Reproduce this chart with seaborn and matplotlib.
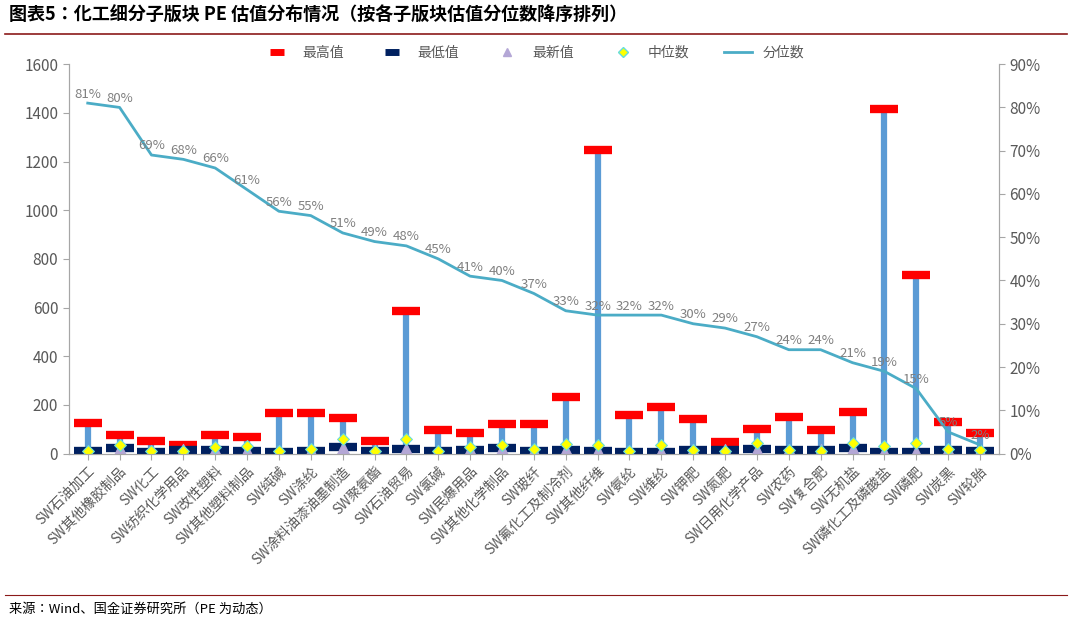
import matplotlib
matplotlib.use("Agg")
import matplotlib.pyplot as plt
import seaborn as sns
import numpy as np
import pandas as pd
from matplotlib.lines import Line2D

plt.rcParams["font.family"] = ["Noto Sans CJK SC", "Noto Sans CJK JP", "Noto Sans CJK TC", "Noto Sans CJK KR", "DejaVu Sans"]

categories = ["SW石油加工","SW其他橡胶制品","SW化工","SW纺织化学用品","SW改性塑料","SW其他塑料制品","SW纯碱","SW涤纶",
              "SW涂料油漆油墨制造","SW聚氨酯","SW石油贸易","SW氯碱","SW民爆用品","SW其他化学制品","SW玻纤","SW氟化工及制冷剂",
              "SW其他纤维","SW氨纶","SW维纶","SW钾肥","SW氮肥","SW日用化学产品","SW农药","SW复合肥","SW无机盐",
              "SW磷化工及磷酸盐","SW磷肥","SW炭黑","SW轮胎"]
max_vals = [125,78,52,35,75,70,168,168,145,52,585,97,85,120,120,232,1248,158,190,140,48,102,150,97,172,1415,735,128,85]
min_vals = [10,22,5,15,15,12,8,12,25,12,20,10,15,22,12,15,12,8,8,15,15,18,15,15,22,8,8,15,10]
latest_vals = [8,20,6,14,14,12,8,12,22,12,18,10,14,20,12,14,12,8,8,14,14,16,14,14,20,8,8,14,10]
median_vals = [12,37,12,12,25,30,10,18,58,12,58,12,25,35,20,40,35,10,35,15,12,45,15,12,45,30,45,20,15]
percentile = [81,80,69,68,66,61,56,55,51,49,48,45,41,40,37,33,32,32,32,30,29,27,24,24,21,19,15,5,2]

df = pd.DataFrame({"cat": categories, "max": max_vals, "min": min_vals, "latest": latest_vals,
                   "median": median_vals, "pct": percentile})
x = np.arange(len(df))

fig = plt.figure(figsize=(10.72, 6.23), dpi=100)
ax = fig.add_axes([0.064, 0.272, 0.868, 0.625])
ax2 = ax.twinx()

ax.vlines(x, df["min"], df["max"], color="#5b9bd5", lw=4.5, zorder=1)
sns.scatterplot(x=x, y=df["max"], ax=ax, marker="_", s=380, linewidth=6, color="#ff0000", zorder=3, legend=False)
sns.scatterplot(x=x, y=df["min"], ax=ax, marker="_", s=380, linewidth=6, color="#002060", zorder=3, legend=False)
sns.scatterplot(x=x, y=df["latest"], ax=ax, marker="^", s=80, color="#b4a7d6", edgecolor="#b4a7d6", zorder=4, legend=False)
sns.scatterplot(x=x, y=df["median"], ax=ax, marker="D", s=36, color="#ffff00", edgecolor="#66dddd", linewidth=0.8, zorder=5, legend=False)
sns.lineplot(x=x, y=df["pct"], ax=ax2, color="#4bacc6", lw=2, zorder=2)
for xi, p in zip(x, df["pct"]):
    ax2.text(xi, p + 0.6, f"{p}%", ha="center", va="bottom", fontsize=9.5, color="#808080")

ax.set_ylim(0, 1600)
ax.set_yticks(range(0, 1601, 200))
ax2.set_ylim(0, 90)
ax2.set_yticks(range(0, 91, 10))
ax2.set_yticklabels([f"{v}%" for v in range(0, 91, 10)])
ax.set_xlim(-0.6, len(df) - 0.4)
ax.set_xticks(x)
ax.set_xticklabels(df["cat"], rotation=45, ha="right", rotation_mode="anchor", fontsize=10, color="#595959")
for a in (ax, ax2):
    a.tick_params(axis="y", labelsize=11, labelcolor="#595959", length=4, color="#a6a6a6")
    a.set_ylabel("")
    a.set_xlabel("")
    a.spines["top"].set_visible(False)
    for s in ["left", "right", "bottom"]:
        a.spines[s].set_color("#a6a6a6")
ax.tick_params(axis="x", length=4, color="#a6a6a6")

handles = [Line2D([], [], marker="_", ls="", ms=10, mew=5, color="#ff0000"),
           Line2D([], [], marker="_", ls="", ms=10, mew=5, color="#002060"),
           Line2D([], [], marker="^", ls="", ms=6, color="#b4a7d6"),
           Line2D([], [], marker="D", ls="", ms=5, color="#ffff00", mec="#66dddd"),
           Line2D([], [], color="#4bacc6", lw=2)]
ax.legend(handles, ["最高值", "最低值", "最新值", "中位数", "分位数"], loc="upper center",
          bbox_to_anchor=(0.5, 1.08), ncol=5, frameon=False, fontsize=10, labelcolor="#595959",
          columnspacing=2.5)

fig.text(0.008, 0.975, "图表5：化工细分子版块 PE 估值分布情况（按各子版块估值分位数降序排列）", fontsize=13,
         fontweight="bold", style="italic", va="center")
fig.add_artist(Line2D([0.005, 0.995], [0.945, 0.945], color="#8b1a1a", lw=1.2))
fig.add_artist(Line2D([0.005, 0.995], [0.045, 0.045], color="#8b1a1a", lw=0.8))
fig.text(0.008, 0.022, "来源：Wind、国金证券研究所（PE 为动态）", fontsize=9.5, va="center")

fig.savefig("out.png", dpi=100)
